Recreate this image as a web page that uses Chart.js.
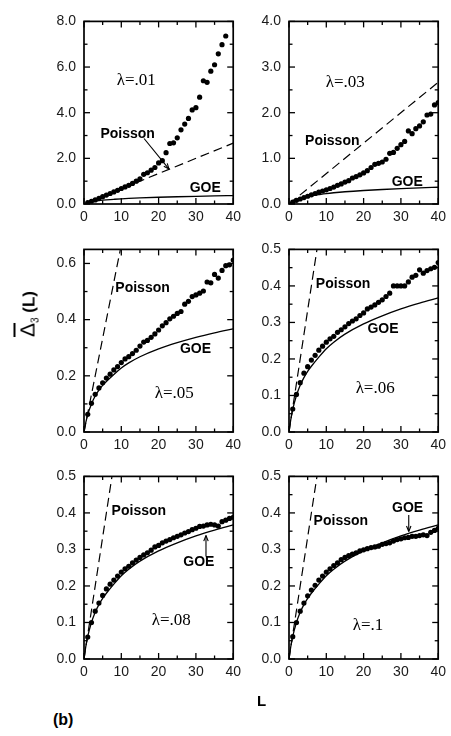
<!DOCTYPE html>
<html><head><meta charset="utf-8">
<script src="https://cdn.jsdelivr.net/npm/chart.js@4/dist/chart.umd.min.js"></script>
<style>
html,body{margin:0;padding:0;background:#fff;overflow:hidden;width:451px;height:736px;}
canvas{position:absolute;}
.txt{position:absolute;font-family:'Liberation Sans',Arial,sans-serif;color:#000;white-space:nowrap;line-height:1;}
</style></head><body>
<script>
// ---------- data ----------
const L_VALUES = [1,2,3,4,5,6,7,8,9,10,11,12,13,14,15,16,17,18,19,20,21,22,23,24,25,26,27,28,29,30,31,32,33,34,35,36,37,38,39,40];
const POISSON_L = [0, 40];
const POISSON_VALUES = [0, 2.667];
const GOE_L = [0, 0.5, 1, 2, 3, 4, 5, 6, 8, 10, 12, 15, 20, 25, 30, 35, 40];
const GOE_VALUES = [0, 0.035, 0.062, 0.1, 0.128, 0.149, 0.166, 0.18, 0.205, 0.228, 0.246, 0.268, 0.296, 0.318, 0.337, 0.353, 0.367];
const VALUES_L01 = [0.06,0.12,0.18,0.25,0.32,0.39,0.46,0.53,0.6,0.68, 0.75,0.82,0.9,1.0,1.1,1.3,1.37,1.48,1.6,1.8, 1.9,2.25,2.65,2.68,2.9,3.25,3.5,3.75,4.12,4.22, 4.68,5.4,5.33,5.82,6.1,6.58,6.98,7.36,null,null];
const VALUES_L03 = [0.04,0.08,0.11,0.14,0.17,0.2,0.23,0.26,0.285,0.31, 0.34,0.37,0.41,0.44,0.48,0.51,0.57,0.6,0.64,0.68, 0.73,0.8,0.87,0.89,0.92,0.98,1.11,1.13,1.22,1.3, 1.37,1.6,1.54,1.65,1.71,1.8,1.95,1.97,2.17,2.22];
const VALUES_L05 = [0.063,0.102,0.134,0.157,0.175,0.192,0.206,0.221,0.233,0.247, 0.26,0.268,0.279,0.291,0.306,0.32,0.326,0.337,0.349,0.363, 0.378,0.389,0.403,0.412,0.422,0.429,0.455,0.465,0.482,0.488, 0.494,0.502,0.534,0.531,0.561,0.548,0.575,0.592,0.595,0.612];
const VALUES_L06 = [0.063,0.103,0.135,0.161,0.179,0.197,0.21,0.224,0.235,0.246, 0.255,0.262,0.273,0.28,0.288,0.297,0.304,0.31,0.319,0.326, 0.337,0.342,0.348,0.355,0.362,0.371,0.38,0.4,0.4,0.4, 0.4,0.411,0.424,0.429,0.444,0.435,0.442,0.447,0.451,0.464];
const VALUES_L08 = [0.06,0.1,0.131,0.153,0.174,0.192,0.205,0.216,0.227,0.238, 0.247,0.254,0.263,0.271,0.278,0.285,0.291,0.298,0.307,0.311, 0.318,0.323,0.327,0.332,0.336,0.34,0.345,0.349,0.354,0.358, 0.363,0.364,0.367,0.369,0.367,0.364,0.376,0.38,0.385,0.388];
const VALUES_L10 = [0.061,0.1,0.131,0.153,0.173,0.189,0.202,0.216,0.227,0.238, 0.247,0.256,0.263,0.272,0.278,0.283,0.287,0.291,0.296,0.299, 0.302,0.305,0.307,0.309,0.314,0.316,0.318,0.323,0.327,0.329, 0.332,0.333,0.336,0.336,0.338,0.34,0.338,0.347,0.352,0.358];
const X_TICKS = [0, 10, 20, 30, 40];
const LAMBDA_LABELS = ['λ=.01','λ=.03','λ=.05','λ=.06','λ=.08','λ=.1'];

// ---------- layout / style ----------
const PLOT_W = 154, PLOT_H = 187, PAD_L = 45, PAD_T = 12, PAD_R = 8, PAD_B = 25;
const PANELS = [
  {left:84, top:17, values:VALUES_L01, yMax:8, yStep:2, yMinor:1, lam:[14.0,5.39], poi:[11.7,3.08], goe:[32.5,0.68], arrow:[16.1,2.87,22.8,1.53]},
  {left:289, top:17, values:VALUES_L03, yMax:4, yStep:1, yMinor:0.5, lam:[15.1,2.65], poi:[11.6,1.37], goe:[31.7,0.47]},
  {left:84, top:245, values:VALUES_L05, yMax:0.65, yStep:0.2, yMinor:0.1, lam:[24.2,0.136], poi:[15.7,0.511], goe:[29.9,0.296]},
  {left:289, top:245, values:VALUES_L06, yMax:0.5, yStep:0.1, yMinor:0.05, lam:[23.1,0.118], poi:[14.5,0.406], goe:[25.2,0.281]},
  {left:84, top:472, values:VALUES_L08, yMax:0.5, yStep:0.1, yMinor:0.05, lam:[23.4,0.104], poi:[14.7,0.406], goe:[30.8,0.265], arrow:[32.7,0.281,32.7,0.338]},
  {left:289, top:472, values:VALUES_L10, yMax:0.5, yStep:0.1, yMinor:0.05, lam:[21.2,0.091], poi:[13.9,0.378], goe:[31.8,0.414], arrow:[32.1,0.394,32.1,0.349]}
];
const SANS = "'Liberation Sans', Arial, sans-serif";
const SERIF = "'Liberation Serif', 'Times New Roman', serif";

function line(ctx,x1,y1,x2,y2){ctx.beginPath();ctx.moveTo(x1,y1);ctx.lineTo(x2,y2);ctx.stroke();}

function decorPlugin(cfg, idx){
  return {
    id:'decor'+idx,
    afterDraw(chart){
      const {ctx, chartArea:a, scales:{x,y}} = chart;
      ctx.save();
      ctx.strokeStyle='#000'; ctx.lineWidth=1.3;
      // x ticks (inward, mirrored)
      for(let i=0;i<=8;i++){
        const v=i*5, px=x.getPixelForValue(v), len=(i%2===0)?6:3.5;
        line(ctx,px,a.bottom,px,a.bottom-len);
        line(ctx,px,a.top,px,a.top+len);
      }
      const n=Math.floor(cfg.yMax/cfg.yMinor+1e-9), per=Math.round(cfg.yStep/cfg.yMinor);
      for(let i=0;i<=n;i++){
        const v=i*cfg.yMinor, py=y.getPixelForValue(v), len=(i%per===0)?6:3.5;
        line(ctx,a.left,py,a.left+len,py);
        line(ctx,a.right,py,a.right-len,py);
      }
      ctx.lineWidth=1.7;
      ctx.strokeRect(a.left,a.top,a.right-a.left,a.bottom-a.top);
      // texts
      ctx.fillStyle='#000'; ctx.textAlign='center'; ctx.textBaseline='middle';
      ctx.font='17px '+SERIF;
      ctx.fillText(LAMBDA_LABELS[idx], x.getPixelForValue(cfg.lam[0]), y.getPixelForValue(cfg.lam[1]));
      ctx.font='bold 14px '+SANS;
      ctx.fillText('Poisson', x.getPixelForValue(cfg.poi[0]), y.getPixelForValue(cfg.poi[1]));
      ctx.fillText('GOE', x.getPixelForValue(cfg.goe[0]), y.getPixelForValue(cfg.goe[1]));
      if(cfg.arrow){
        const x1=x.getPixelForValue(cfg.arrow[0]), y1=y.getPixelForValue(cfg.arrow[1]);
        const x2=x.getPixelForValue(cfg.arrow[2]), y2=y.getPixelForValue(cfg.arrow[3]);
        ctx.lineWidth=1.1;
        line(ctx,x1,y1,x2,y2);
        const ang=Math.atan2(y2-y1,x2-x1), h=6, w=0.38;
        ctx.beginPath();
        ctx.moveTo(x2,y2);
        ctx.lineTo(x2-h*Math.cos(ang-w), y2-h*Math.sin(ang-w));
        ctx.moveTo(x2,y2);
        ctx.lineTo(x2-h*Math.cos(ang+w), y2-h*Math.sin(ang+w));
        ctx.stroke();
      }
      ctx.restore();
    }
  };
}

PANELS.forEach((cfg, idx) => {
  const c = document.createElement('canvas');
  c.width = PAD_L + PLOT_W + PAD_R; c.height = PAD_T + PLOT_H + PAD_B;
  c.style.left = (cfg.left - PAD_L) + 'px'; c.style.top = (cfg.top - PAD_T) + 'px';
  document.body.appendChild(c);
  const pts = [];
  L_VALUES.forEach((l,i) => { if (cfg.values[i] != null) pts.push({x:l, y:cfg.values[i]}); });
  new Chart(c, {
    type:'scatter',
    data:{datasets:[
      {data:POISSON_L.map((l,i)=>({x:l,y:POISSON_VALUES[i]})), showLine:true, borderColor:'#000', borderWidth:1.2, borderDash:[9,5], pointRadius:0},
      {data:GOE_L.map((l,i)=>({x:l,y:GOE_VALUES[i]})), showLine:true, borderColor:'#000', borderWidth:1.3, pointRadius:0, cubicInterpolationMode:'monotone'},
      {data:pts, showLine:false, pointRadius:2.6, pointBackgroundColor:'#000', pointBorderWidth:0, borderColor:'#000'}
    ]},
    options:{
      responsive:false, animation:false, events:[], devicePixelRatio:1,
      layout:{padding:{top:PAD_T,right:PAD_R,left:0,bottom:0}},
      plugins:{legend:{display:false}, tooltip:{enabled:false}},
      scales:{
        x:{type:'linear', min:0, max:40,
           afterFit:s=>{s.height=PAD_B;},
           afterBuildTicks:s=>{s.ticks = X_TICKS.map(v=>({value:v}));},
           grid:{display:false, drawTicks:false}, border:{display:false},
           ticks:{padding:5, autoSkip:false, maxRotation:0, color:'#1a1a1a', font:{family:SANS, size:14}, callback:v=>String(v)}},
        y:{type:'linear', min:0, max:cfg.yMax,
           afterFit:s=>{s.width=PAD_L;},
           grid:{display:false, drawTicks:false}, border:{display:false},
           ticks:{stepSize:cfg.yStep, includeBounds:false, padding:8, autoSkip:false, color:'#1a1a1a', font:{family:SANS, size:14}, callback:v=>Number(v).toFixed(1)}}
      }
    },
    plugins:[decorPlugin(cfg, idx)]
  });
});
</script>
<div class="txt" style="left:27px;top:314px;transform:translate(-50%,-50%) rotate(-90deg);">
  <span style="font-size:21px;text-decoration:overline;">Δ</span><span style="font-size:10px;position:relative;top:4px;">3</span><span style="font-weight:bold;font-size:17px;">&nbsp;(L)</span>
</div>
<div class="txt" style="left:53px;top:712px;font-weight:bold;font-size:16px;">(b)</div>
<div class="txt" style="left:257px;top:693px;font-weight:bold;font-size:15px;">L</div>
</body></html>
